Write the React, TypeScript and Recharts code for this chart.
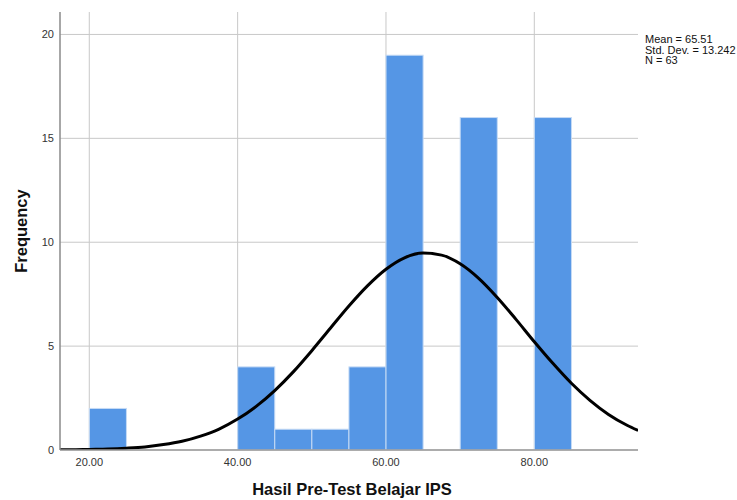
import React from "react"
import { ComposedChart, Bar, Line, XAxis, YAxis, CartesianGrid } from "recharts"

// histogram bins (centre of each 5-wide bin) and their counts
const binCenters = [22.5, 42.5, 47.5, 52.5, 57.5, 62.5, 72.5, 82.5]
const frequencies = [2, 4, 1, 1, 4, 19, 16, 16]

// normal curve
const curveX = [
  16, 17.5, 20, 22.5, 25, 27.5, 30, 32.5, 35, 37.5, 40, 42.5, 45, 47.5, 50, 52.5, 55,
  57.5, 60, 62.5, 65, 67.5, 70, 72.5, 75, 77.5, 80, 82.5, 85, 87.5, 90, 92.5, 94,
]
const curveY = [
  0.01, 0.01, 0.03, 0.05, 0.09, 0.15, 0.26, 0.42, 0.67, 1.01, 1.49, 2.1, 2.86, 3.76, 4.78,
  5.86, 6.93, 7.9, 8.7, 9.25, 9.48, 9.38, 8.96, 8.26, 7.34, 6.3, 5.21, 4.17, 3.21, 2.39,
  1.71, 1.19, 0.94,
]

const xTicks = [20, 40, 60, 80]
const yTicks = [0, 5, 10, 15, 20]
const statsLines = ["Mean = 65.51", "Std. Dev. = 13.242", "N = 63"]

const data = curveX.map((x, i) => {
  const b = binCenters.indexOf(x)
  return { x, curve: curveY[i], freq: b >= 0 ? frequencies[b] : null }
})

const font = "'Liberation Sans', Arial, sans-serif"
const xDomain = [16.05, 93.98]
const margin = { top: 12, right: 99, bottom: 0, left: 0 }
const yAxisWidth = 60
const chartW = 737
// one bin is 5 units wide on the x scale
const binPx = (5 * (chartW - margin.left - margin.right - yAxisWidth)) / (xDomain[1] - xDomain[0])

const HistBar = (props: any) => {
  const { x, y, width, height } = props
  if (!height || height <= 0) return null
  const cx = x + width / 2
  return <rect x={cx - binPx / 2} y={y} width={binPx} height={height} fill="#5596e5" stroke="#c6dbf5" strokeWidth={1} />
}

export default function App() {
  return (
    <div style={{ position: "fixed", left: 0, top: 0, width: 737, height: 500, background: "#fff", fontFamily: font }}>
      <ComposedChart width={chartW} height={500} data={data} margin={margin}>
        <CartesianGrid stroke="#c8c8c8" verticalValues={xTicks} horizontalValues={yTicks} />
        <XAxis
          dataKey="x"
          type="number"
          domain={xDomain}
          allowDataOverflow
          ticks={xTicks}
          tickFormatter={(v) => v.toFixed(2)}
          tickLine={false}
          tickSize={6}
          tickMargin={2}
          height={50}
          axisLine={{ stroke: "#9a9a9a", strokeWidth: 1.5 }}
          tick={{ fontSize: 11, fill: "#333", fontFamily: font }}
          label={{
            value: "Hasil Pre-Test Belajar IPS",
            position: "insideBottom",
            offset: 5,
            dx: 3,
            style: { fontSize: 16.5, fontWeight: "bold", fill: "#111", fontFamily: font },
          }}
        />
        <YAxis
          type="number"
          domain={[0, 21.08]}
          allowDataOverflow
          ticks={yTicks}
          tickLine={false}
          tickSize={4}
          tickMargin={2}
          width={yAxisWidth}
          axisLine={{ stroke: "#8a8a8a", strokeWidth: 1.5 }}
          tick={{ fontSize: 11, fill: "#333", fontFamily: font }}
          label={{
            value: "Frequency",
            angle: -90,
            position: "insideLeft",
            offset: 21,
            style: { textAnchor: "middle", fontSize: 16.5, fontWeight: "bold", fill: "#111", fontFamily: font },
          }}
        />
        <Bar dataKey="freq" shape={HistBar} fill="#5596e5" isAnimationActive={false} />
        <Line dataKey="curve" type="monotone" stroke="#000" strokeWidth={3} dot={false} activeDot={false} isAnimationActive={false} />
      </ComposedChart>
      <div style={{ position: "absolute", left: 645, top: 34, fontSize: 11, lineHeight: "10.5px", color: "#111" }}>
        {statsLines.map((s) => (
          <div key={s}>{s}</div>
        ))}
      </div>
    </div>
  )
}
